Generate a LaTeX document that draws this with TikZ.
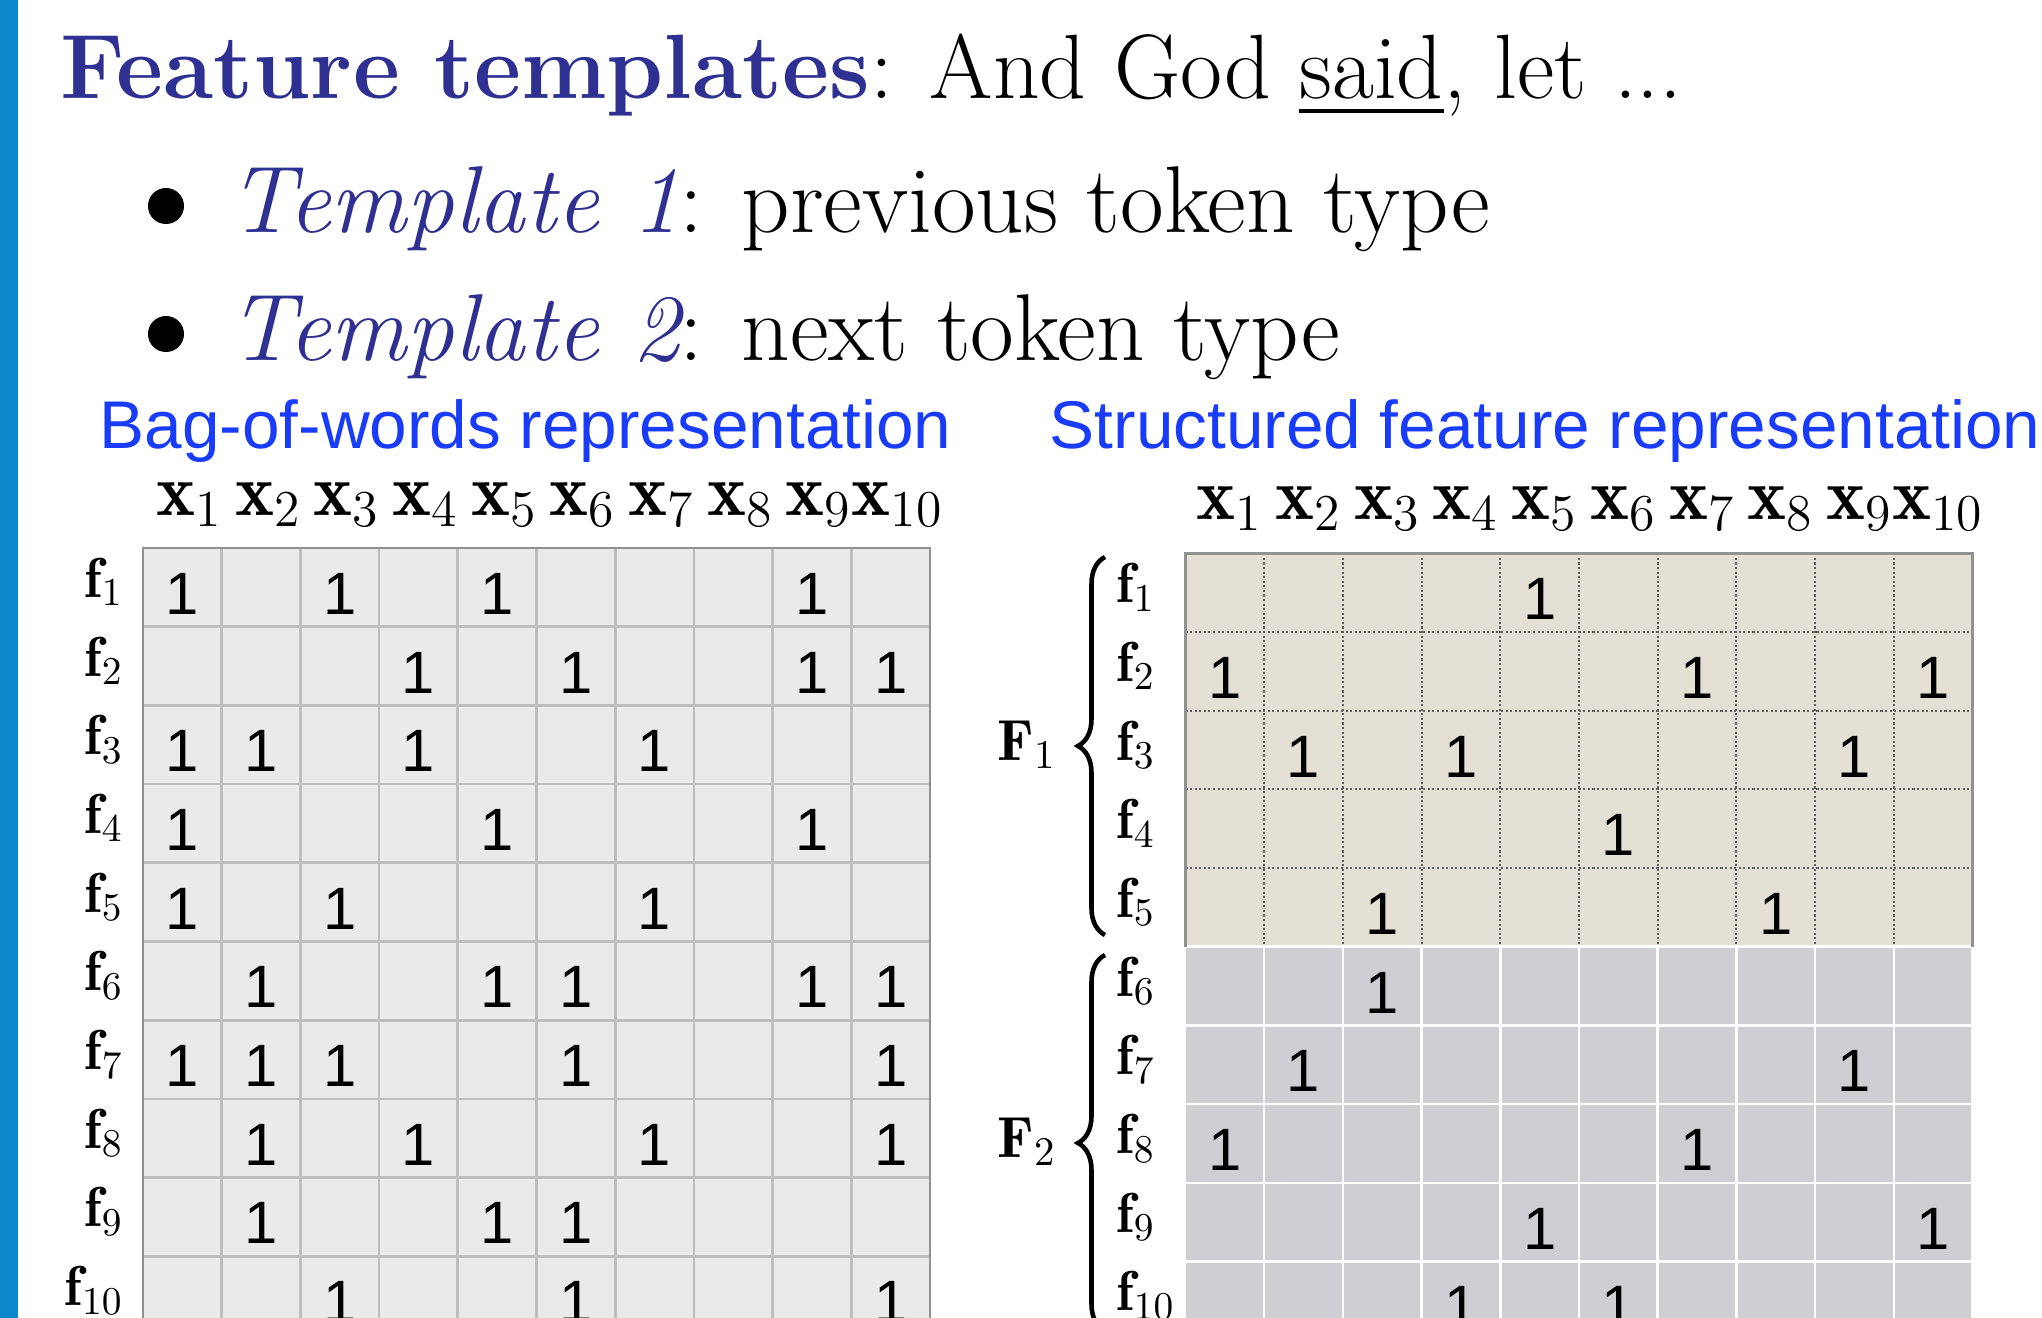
\documentclass[tikz,border=0pt]{standalone}
\usepackage{fix-cm}
\usepackage{amsmath}
\usepackage{fontspec}
\newfontfamily\helv{Liberation Sans}
\usepackage{tikz}
\usetikzlibrary{decorations.pathreplacing}
\definecolor{barblue}{RGB}{14,136,204}
\definecolor{titleblue}{RGB}{46,49,146}
\definecolor{headblue}{RGB}{25,60,250}
\definecolor{bowfill}{RGB}{234,234,234}
\definecolor{bowline}{RGB}{190,190,190}
\definecolor{bowedge}{RGB}{145,145,145}
\definecolor{sfonefill}{RGB}{228,224,214}
\definecolor{sfoneline}{RGB}{95,95,95}
\definecolor{sftwofill}{RGB}{207,206,211}
\tikzset{
  slidetext/.style={font=\fontsize{26}{31}\selectfont,inner sep=0pt,anchor=base west},
  bullettext/.style={font=\fontsize{27}{32}\selectfont,inner sep=0pt,anchor=base west},
  reprhead/.style={font=\helv\fontsize{19.2}{23}\selectfont,text=headblue,inner sep=0pt,anchor=base west},
  colhead/.style={font=\fontsize{21}{25}\selectfont,inner sep=0pt,anchor=base},
  rowlab/.style={font=\fontsize{16}{19}\selectfont,inner sep=0pt},
  grouplab/.style={font=\fontsize{16.5}{20}\selectfont,inner sep=0pt,anchor=base east},
  one/.style={font=\helv\fontsize{17}{20}\selectfont,inner sep=0pt,anchor=base},
  bulletdot/.style={circle,fill=black,inner sep=0pt,minimum size=0.36cm},
  grpbrace/.style={decorate,decoration={brace,amplitude=0.27cm},line width=1.3pt},
}

\begin{document}
\begin{tikzpicture}[x=0.01cm,y=-0.01cm]
  \useasboundingbox (0,0) rectangle (2042,1318);
  \fill[barblue] (0,0) rectangle (18,1318);

  \node[slidetext] (title) at (60,98)
     {{\color{titleblue}\bfseries Feature templates}: And God \underline{said}, let ...};
  \node[bulletdot] (dot1) at (166,206) {};
  \node[bullettext] (tmpl1) at (228,232) {{\color{titleblue}\itshape Template 1}: previous token type};
  \node[bulletdot] (dot2) at (166,334) {};
  \node[bullettext] (tmpl2) at (228,360) {{\color{titleblue}\itshape Template 2}: next token type};

  \node[reprhead] (bowhead) at (99,448) {Bag-of-words representation};
  \node[reprhead] (sfhead) at (1049,448) {Structured feature representation};

  % bag of words
  \fill[bowfill] (143,548) rectangle (930,1330);
  \foreach \i in {1,...,9}{
     \draw[bowline,line width=0.75pt] ({143+\i*78.7},548) -- ++(0,782);
     \draw[bowline,line width=0.75pt] (143,{548+\i*78.7}) -- (930,{548+\i*78.7});
  }
  \draw[bowedge,line width=0.8pt] (143,1330) -- (143,548) -- (930,548) -- (930,1330);

  % structured, F1 and F2
  \fill[sfonefill] (1185.5,553.3) rectangle (1972.5,946.7);
  \fill[sftwofill] (1185.5,946.7) rectangle (1972.5,1330);
  \foreach \i in {1,...,9}{
     \draw[sfoneline,line width=0.55pt,dash pattern=on 0.6pt off 0.7pt] ({1185.5+\i*78.7},553.3) -- ({1185.5+\i*78.7},946.7);
     \draw[white,line width=0.7pt] ({1185.5+\i*78.7},946.7) -- ({1185.5+\i*78.7},1330);
  }
  \foreach \j in {1,...,4}{
     \draw[sfoneline,line width=0.55pt,dash pattern=on 0.6pt off 0.7pt] (1185.5,{553.3+\j*78.7}) -- (1972.5,{553.3+\j*78.7});
     \draw[white,line width=0.7pt] (1185.5,{946.7+\j*78.7}) -- (1972.5,{946.7+\j*78.7});
  }
  \draw[white,line width=0.8pt] (1185.5,946.7) -- (1972.5,946.7) -- (1972.5,1330);
  \draw[bowedge,line width=0.8pt] (1185.5,946.7) -- (1185.5,553.3) -- (1972.5,553.3) -- (1972.5,946.7);

  \foreach \c in {1,...,10}{
     \node[colhead] (bx\c) at ({143+(\c-0.5)*78.7+7},515) {$\mathbf{x}_{\c}$};
     \node[colhead] (sx\c) at ({1185.5+(\c-0.5)*78.7+5},519) {$\mathbf{x}_{\c}$};
     \node[rowlab,anchor=base east] (bf\c) at (124,{548+(\c-0.5)*78.7+10}) {$\mathbf{f}_{\c}$};
     \node[rowlab,anchor=base west] (sf\c) at (1116,{553.3+(\c-0.5)*78.7+10}) {$\mathbf{f}_{\c}$};
  }

  \foreach \r/\cols in {1/{1,3,5,9},2/{4,6,9,10},3/{1,2,4,7},4/{1,5,9},5/{1,3,7},
                        6/{2,5,6,9,10},7/{1,2,3,6,10},8/{2,4,7,10},9/{2,5,6},10/{3,6,10}}{
     \foreach \c in \cols
        \node[one] (b-\r-\c) at ({143+(\c-0.5)*78.7},{548+(\r-0.5)*78.7+27}) {1};
  }
  \foreach \r/\cols in {1/{5},2/{1,7,10},3/{2,4,9},4/{6},5/{3,8},
                        6/{3},7/{2,9},8/{1,7},9/{5,10},10/{4,6}}{
     \foreach \c in \cols
        \node[one] (s-\r-\c) at ({1185.5+(\c-0.5)*78.7},{553.3+(\r-0.5)*78.7+27}) {1};
  }

  \coordinate (F1top) at (1105,557);
  \coordinate (F1bot) at (1105,935);
  \coordinate (F2top) at (1105,955);
  \coordinate (F2bot) at (1105,1331);
  \draw[grpbrace] (F1bot) -- (F1top);
  \draw[grpbrace] (F2bot) -- (F2top);
  \node[grouplab] (F1) at (1057,760) {$\mathbf{F}_1$};
  \node[grouplab] (F2) at (1057,1157) {$\mathbf{F}_2$};
\end{tikzpicture}
\end{document}
